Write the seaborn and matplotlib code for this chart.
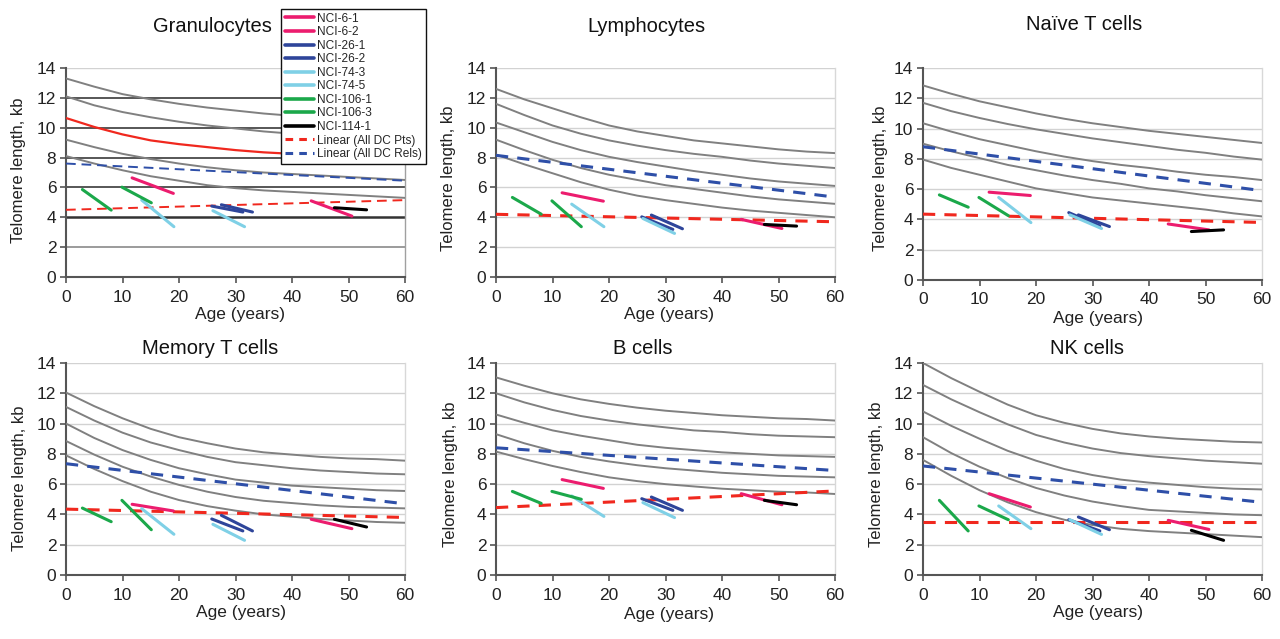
import matplotlib
matplotlib.use("Agg")
import matplotlib.pyplot as plt
import seaborn as sns
from matplotlib.lines import Line2D

sns.set_theme(style="white")
plt.rcParams['font.family'] = ['Liberation Sans', 'DejaVu Sans']

# ---------------- data ----------------
AGES = [0, 5, 10, 15, 20, 25, 30, 35, 40, 45, 50, 55, 60]
TREND_AGES = [0, 60]

PATIENTS = ['NCI-6-1', 'NCI-6-2', 'NCI-26-1', 'NCI-26-2', 'NCI-74-3',
            'NCI-74-5', 'NCI-106-1', 'NCI-106-3', 'NCI-114-1']
PAT_COLORS = ['#ec1c6e', '#ec1c6e', '#2e459a', '#2e459a', '#7fd0e6',
              '#7fd0e6', '#1ba84a', '#1ba84a', '#000000']
SEG_START_AGE = [43.4, 11.7, 25.8, 27.5, 26.0, 13.4, 9.9, 2.9, 47.5]
SEG_END_AGE = [50.6, 19.0, 31.3, 33.0, 31.6, 19.1, 15.1, 8.0, 53.2]

PANELS = ['Granulocytes', 'Lymphocytes', 'Naïve T cells',
          'Memory T cells', 'B cells', 'NK cells']

# percentile curves (99th, 90th, 50th, 10th, 1st) per panel
GRAN_CURVES = [
    [13.3, 12.75, 12.25, 11.9, 11.6, 11.35, 11.15, 10.95, 10.8, 10.65, 10.5, 10.4, 10.3],
    [12.1, 11.5, 11.05, 10.7, 10.4, 10.15, 9.95, 9.75, 9.6, 9.45, 9.35, 9.25, 9.15],
    [10.65, 10.05, 9.55, 9.15, 8.9, 8.7, 8.5, 8.35, 8.25, 8.1, 8.0, 7.9, 7.8],
    [9.2, 8.7, 8.25, 7.9, 7.6, 7.35, 7.15, 7.0, 6.9, 6.8, 6.7, 6.6, 6.5],
    [8.1, 7.6, 7.15, 6.75, 6.45, 6.15, 5.95, 5.8, 5.7, 5.6, 5.5, 5.4, 5.3],
]
LYMPH_CURVES = [
    [12.6, 11.9, 11.3, 10.7, 10.15, 9.75, 9.45, 9.15, 8.95, 8.75, 8.55, 8.4, 8.3],
    [11.6, 10.85, 10.15, 9.6, 9.15, 8.8, 8.5, 8.25, 8.05, 7.8, 7.6, 7.45, 7.3],
    [10.35, 9.7, 9.05, 8.5, 8.05, 7.7, 7.4, 7.1, 6.85, 6.6, 6.4, 6.25, 6.1],
    [9.2, 8.5, 7.85, 7.3, 6.85, 6.5, 6.15, 5.9, 5.65, 5.4, 5.2, 5.05, 4.9],
    [8.2, 7.55, 6.95, 6.35, 5.85, 5.45, 5.15, 4.9, 4.65, 4.45, 4.3, 4.15, 4.0],
]
NAIVE_CURVES = [
    [12.85, 12.3, 11.8, 11.4, 11.0, 10.65, 10.35, 10.1, 9.85, 9.65, 9.45, 9.25, 9.05],
    [11.7, 11.15, 10.7, 10.3, 9.95, 9.65, 9.35, 9.1, 8.85, 8.6, 8.4, 8.15, 7.95],
    [10.35, 9.8, 9.3, 8.9, 8.5, 8.15, 7.85, 7.6, 7.4, 7.15, 6.95, 6.8, 6.6],
    [9.0, 8.5, 8.05, 7.6, 7.25, 6.9, 6.6, 6.35, 6.05, 5.85, 5.6, 5.4, 5.2],
    [7.95, 7.4, 6.95, 6.5, 6.05, 5.75, 5.45, 5.25, 5.05, 4.85, 4.65, 4.4, 4.2],
]
MEMORY_CURVES = [
    [12.05, 11.15, 10.35, 9.65, 9.1, 8.7, 8.35, 8.1, 7.95, 7.8, 7.7, 7.65, 7.55],
    [11.1, 10.2, 9.4, 8.75, 8.25, 7.8, 7.45, 7.25, 7.05, 6.9, 6.8, 6.7, 6.65],
    [10.0, 9.05, 8.25, 7.6, 7.05, 6.65, 6.3, 6.1, 5.9, 5.8, 5.7, 5.6, 5.55],
    [8.85, 7.95, 7.15, 6.5, 5.95, 5.5, 5.15, 4.9, 4.75, 4.6, 4.5, 4.45, 4.4],
    [7.9, 7.0, 6.2, 5.5, 4.95, 4.55, 4.25, 4.0, 3.85, 3.7, 3.6, 3.5, 3.45],
]
BCELL_CURVES = [
    [13.05, 12.5, 12.0, 11.6, 11.3, 11.05, 10.85, 10.7, 10.55, 10.45, 10.35, 10.3, 10.2],
    [12.0, 11.4, 10.9, 10.5, 10.2, 9.95, 9.75, 9.55, 9.45, 9.3, 9.2, 9.15, 9.1],
    [10.6, 10.05, 9.55, 9.2, 8.9, 8.6, 8.4, 8.25, 8.1, 8.0, 7.9, 7.85, 7.8],
    [9.3, 8.7, 8.2, 7.8, 7.5, 7.25, 7.05, 6.9, 6.75, 6.65, 6.55, 6.5, 6.45],
    [8.15, 7.65, 7.2, 6.8, 6.45, 6.2, 6.0, 5.85, 5.7, 5.6, 5.5, 5.45, 5.35],
]
NK_CURVES = [
    [14.0, 13.0, 12.1, 11.25, 10.55, 10.05, 9.65, 9.35, 9.15, 9.0, 8.9, 8.8, 8.75],
    [12.55, 11.6, 10.75, 9.95, 9.25, 8.75, 8.35, 8.05, 7.85, 7.7, 7.55, 7.45, 7.35],
    [10.8, 9.85, 9.0, 8.2, 7.55, 7.0, 6.6, 6.3, 6.1, 5.95, 5.8, 5.7, 5.65],
    [9.1, 8.05, 7.15, 6.4, 5.75, 5.25, 4.85, 4.55, 4.3, 4.2, 4.1, 4.0, 3.95],
    [7.6, 6.55, 5.6, 4.8, 4.15, 3.65, 3.3, 3.05, 2.9, 2.8, 2.7, 2.6, 2.5],
]

# linear trends at ages 0 and 60: (DC patients, DC relatives)
GRAN_TRENDS = ([4.5, 5.15], [7.6, 6.45])
LYMPH_TRENDS = ([4.2, 3.7], [8.15, 5.35])
NAIVE_TRENDS = ([4.35, 3.8], [8.8, 5.9])
MEMORY_TRENDS = ([4.35, 3.8], [7.35, 4.7])
BCELL_TRENDS = ([4.45, 5.55], [8.4, 6.9])
NK_TRENDS = ([3.5, 3.5], [7.2, 4.8])

# patient segment values (start, end) in PATIENTS order
GRAN_START = [5.1, 6.64, 4.75, 4.84, 4.44, 5.15, 6.02, 5.86, 4.64]
GRAN_END = [4.08, 5.6, 4.35, 4.35, 3.37, 3.37, 4.97, 4.48, 4.5]
LYMPH_START = [3.86, 5.64, 4.03, 4.15, 3.92, 4.88, 5.1, 5.33, 3.52]
LYMPH_END = [3.25, 5.08, 3.19, 3.23, 2.92, 3.37, 3.37, 4.21, 3.41]
NAIVE_START = [3.7, 5.8, 4.45, 4.3, 4.3, 5.45, 5.45, 5.62, 3.2]
NAIVE_END = [3.31, 5.58, 3.57, 3.53, 3.4, 3.79, 4.25, 4.81, 3.31]
MEMORY_START = [3.68, 4.67, 3.7, 3.94, 3.35, 4.38, 4.93, 4.42, 3.68]
MEMORY_END = [3.06, 4.23, 2.91, 2.91, 2.29, 2.69, 2.99, 3.52, 3.17]
BCELL_START = [5.37, 6.3, 5.04, 5.15, 4.78, 5.22, 5.52, 5.52, 4.93]
BCELL_END = [4.64, 5.72, 4.27, 4.27, 3.79, 3.87, 5.0, 4.73, 4.64]
NK_START = [3.61, 5.37, 3.65, 3.83, 3.65, 4.56, 4.56, 4.93, 2.95]
NK_END = [3.01, 4.49, 2.91, 2.99, 2.68, 3.06, 3.65, 2.91, 2.29]

PANEL_CURVES = [GRAN_CURVES, LYMPH_CURVES, NAIVE_CURVES, MEMORY_CURVES, BCELL_CURVES, NK_CURVES]
PANEL_TRENDS = [GRAN_TRENDS, LYMPH_TRENDS, NAIVE_TRENDS, MEMORY_TRENDS, BCELL_TRENDS, NK_TRENDS]
PANEL_START = [GRAN_START, LYMPH_START, NAIVE_START, MEMORY_START, BCELL_START, NK_START]
PANEL_END = [GRAN_END, LYMPH_END, NAIVE_END, MEMORY_END, BCELL_END, NK_END]

X_TICKS = [0, 10, 20, 30, 40, 50, 60]
Y_TICKS = [0, 2, 4, 6, 8, 10, 12, 14]

# ---------------- layout (pixels) ----------------
W, H = 1280, 639
AX_BOX = [(66, 68, 405, 277), (496, 68, 835, 277), (923, 68, 1262, 280),
          (66, 363, 405, 575), (496, 363, 835, 575), (923, 363, 1262, 575)]
TITLE_POS = [(212, 27), (646, 27), (1084, 24), (210, 348), (643, 348), (1087, 348)]
YLAB_POS = [(19, 170), (448, 178), (880, 178), (20, 478), (450, 474), (877, 474)]
XLAB_POS = [(240, 315), (669, 315), (1098, 318), (241, 613), (669, 615), (1098, 613)]

RED = '#f0281e'
BLUE = '#2e4fa8'
GRAY = '#808080'

fig = plt.figure(figsize=(W / 100, H / 100), dpi=100)

for i, name in enumerate(PANELS):
    x0, y0, x1, y1 = AX_BOX[i]
    ax = fig.add_axes([x0 / W, 1 - y1 / H, (x1 - x0) / W, (y1 - y0) / H])
    gran = (i == 0)

    for k, curve in enumerate(PANEL_CURVES[i]):
        col = RED if (gran and k == 2) else GRAY
        sns.lineplot(x=AGES, y=curve, ax=ax, color=col, lw=1.4 if col == GRAY else 1.6,
                     zorder=3)

    pts, rels = PANEL_TRENDS[i]
    tlw = 1.4 if gran else 2.2
    dash = (0, (5, 3)) if gran else (0, (4, 3))
    sns.lineplot(x=TREND_AGES, y=rels, ax=ax, color=BLUE, lw=tlw, linestyle=dash, zorder=4)
    sns.lineplot(x=TREND_AGES, y=pts, ax=ax, color=RED, lw=tlw, linestyle=dash, zorder=4)

    for p in range(len(PATIENTS)):
        sns.lineplot(x=[SEG_START_AGE[p], SEG_END_AGE[p]],
                     y=[PANEL_START[i][p], PANEL_END[i][p]],
                     ax=ax, color=PAT_COLORS[p], lw=2.2, zorder=5)

    ax.set_xlim(0, 60)
    ax.set_ylim(0, 14)
    ax.set_xticks(X_TICKS)
    ax.set_yticks(Y_TICKS)
    ax.set_xlabel('')
    ax.set_ylabel('')
    ax.tick_params(axis='both', which='both', bottom=True, left=True, direction='out',
                   length=4, width=1.2, color='#555555', labelsize=12.5,
                   labelcolor='#222222')
    ax.tick_params(axis='x', pad=5)
    ax.tick_params(axis='y', pad=3)
    ax.yaxis.grid(True, color='#d2d2d2', lw=1.0)
    ax.set_axisbelow(True)
    if gran:
        for t, gl in zip(Y_TICKS, ax.get_ygridlines()):
            if t == 14:
                gl.set_color('#d2d2d2')
            elif t == 2:
                gl.set_color('#8a8a8a'); gl.set_linewidth(1.2)
            elif t == 4:
                gl.set_color('#333333'); gl.set_linewidth(1.8)
            else:
                gl.set_color('#3a3a3a'); gl.set_linewidth(1.2)
    for s in ['left', 'bottom']:
        ax.spines[s].set_color('#555555')
        ax.spines[s].set_linewidth(1.5)
    ax.spines['top'].set_visible(False)
    ax.spines['right'].set_color('#a0a0a0' if gran else '#d8d8d8')
    ax.spines['right'].set_linewidth(1.0)

    tx, ty = TITLE_POS[i]
    fig.text(tx / W, 1 - ty / H, name, ha='center', va='center', fontsize=14.5, color='#111111')
    lx, ly = YLAB_POS[i]
    fig.text(lx / W, 1 - ly / H, 'Telomere length, kb', ha='center', va='center',
             rotation=90, fontsize=12, color='#222222')
    ax_x, ax_y = XLAB_POS[i]
    fig.text(ax_x / W, 1 - ax_y / H, 'Age (years)', ha='center', va='center',
             fontsize=12.5, color='#222222')

handles = [Line2D([], [], color=c, lw=2.6) for c in PAT_COLORS]
handles += [Line2D([], [], color=RED, lw=2.2, linestyle=(0, (2.5, 2))),
            Line2D([], [], color=BLUE, lw=2.2, linestyle=(0, (2.5, 2)))]
labels = PATIENTS + ['Linear (All DC Pts)', 'Linear (All DC Rels)']
leg = fig.legend(handles, labels, loc='upper left', bbox_to_anchor=(281 / W, 1 - 9 / H),
                 frameon=True, fancybox=False, fontsize=8.6, labelspacing=0.13,
                 handlelength=2.5, handletextpad=0.25, borderpad=0.3, borderaxespad=0)
leg.get_frame().set_edgecolor('#111111')
leg.get_frame().set_linewidth(1.0)
leg.get_frame().set_alpha(1.0)
leg.set_zorder(10)

fig.savefig('out.png', dpi=100)
